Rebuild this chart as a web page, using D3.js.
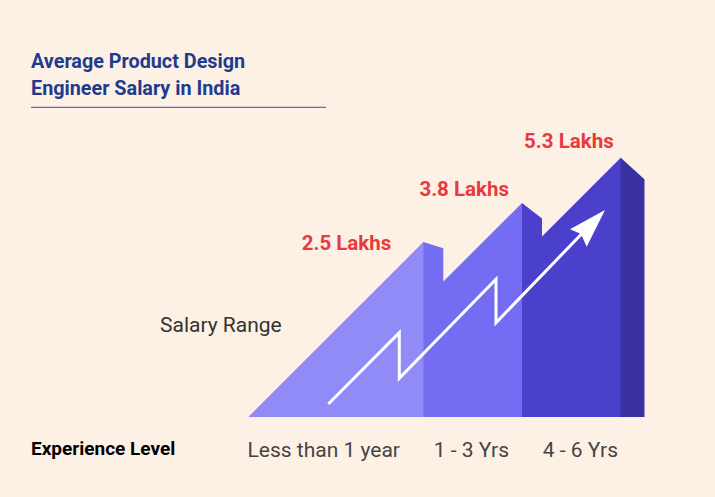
<!DOCTYPE html>
<html>
<head>
<meta charset="utf-8">
<script src="https://d3js.org/d3.v7.min.js"></script>
<style>
  html, body { margin: 0; padding: 0; background: #fdf1e6; }
  svg { display: block; font-family: Roboto, "Noto Sans", sans-serif; }
</style>
</head>
<body>
<div id="chart"></div>
<script>
// chart values
var categories = ["Less than 1 year", "1 - 3 Yrs", "4 - 6 Yrs"];
var salaries = [2.5, 3.8, 5.3];
var salaryLabels = ["2.5 Lakhs", "3.8 Lakhs", "5.3 Lakhs"];
var titleLines = ["Average Product Design", "Engineer Salary in India"];

var width = 715, height = 497;
var base = 417;                       // ground line of the steps
var bandColors = ["#918bf8", "#746df3", "#4a40cc", "#3a31a1"];
var sideWidth = [20, 20, 24];         // width of the shaded side face
var sideDrop = [6.3, 15.6, 21.7];     // how far the side face slopes down
var labelNudge = [[-32, 8], [-13, -7], [-7, -10]];

var svg = d3.select("#chart").append("svg")
  .attr("width", width).attr("height", height);

svg.append("rect").attr("width", width).attr("height", height).attr("fill", "#fdf1e6");

// scales
var x = d3.scalePoint().domain(categories).range([423.3, 620.7]);
var y = d3.scaleLinear().domain([0, 6]).range([317.3, 136.7]);
var xLabel = d3.scalePoint().domain(categories).range([400, 618]);

// build silhouette of the staircase
var pts = [];
var peaks = categories.map(function(c, i){ return [x(c), y(salaries[i])]; });
peaks.forEach(function(p, i){
  if (i == 0) {
    pts.push([p[0] - (base - p[1]), base]);
  } else {
    var sx = peaks[i-1][0] + sideWidth[i-1];
    pts.push([sx, p[1] + (p[0] - sx)]);
  }
  pts.push(p);
  pts.push([p[0] + sideWidth[i], p[1] + sideDrop[i]]);
  if (i == peaks.length - 1) pts.push([p[0] + sideWidth[i], base]);
});

var edges = [pts[0][0]].concat(peaks.map(function(p){ return p[0]; }))
  .concat([peaks[peaks.length-1][0] + sideWidth[sideWidth.length-1]]);

var defs = svg.append("defs");
edges.slice(0, -1).forEach(function(e, i){
  defs.append("clipPath").attr("id", "band" + i)
    .append("rect")
      .attr("x", e).attr("y", 0)
      .attr("width", edges[i+1] - e + (i < edges.length - 2 ? 0.5 : 0))
      .attr("height", height);
});

var shape = "M" + pts.map(function(p){ return p.join(","); }).join("L") + "Z";
bandColors.forEach(function(col, i){
  svg.append("path")
    .attr("d", shape)
    .attr("fill", col)
    .attr("clip-path", "url(#band" + i + ")");
});

// zigzag arrow (decorative)
var arrowPts = [[328.3, 404], [399.3, 332.7], [399.3, 378.3], [496, 279.3], [496, 322.7], [596, 219]];
svg.append("path")
  .attr("d", d3.line()(arrowPts))
  .attr("fill", "none")
  .attr("stroke", "#ffffff")
  .attr("stroke-width", 3)
  .attr("stroke-linejoin", "miter");
svg.append("path")
  .attr("d", d3.line()([[605, 210], [570, 229.3], [581, 234], [586.7, 246.7]]) + "Z")
  .attr("fill", "#ffffff");

// value labels
svg.selectAll(".val").data(salaryLabels).enter().append("text")
  .attr("class", "val")
  .attr("x", function(d, i){ return x(categories[i]) + labelNudge[i][0]; })
  .attr("y", function(d, i){ return y(salaries[i]) + labelNudge[i][1]; })
  .attr("text-anchor", "end")
  .attr("fill", "#e9393e")
  .attr("font-size", 20.5)
  .attr("font-weight", "bold")
  .text(function(d){ return d; });

// category labels
svg.selectAll(".cat").data(categories).enter().append("text")
  .attr("class", "cat")
  .attr("x", function(d){ return xLabel(d); })
  .attr("y", 457)
  .attr("text-anchor", "end")
  .attr("fill", "#444444")
  .attr("font-size", 21)
  .text(function(d){ return d; });

svg.append("text")
  .attr("x", 31).attr("y", 455)
  .attr("fill", "#000000")
  .attr("font-size", 19)
  .attr("font-weight", "bold")
  .text("Experience Level");

svg.append("text")
  .attr("x", 160).attr("y", 332)
  .attr("fill", "#333333")
  .attr("font-size", 21)
  .text("Salary Range");

// title
svg.selectAll(".title").data(titleLines).enter().append("text")
  .attr("class", "title")
  .attr("x", 31)
  .attr("y", function(d, i){ return 67.5 + i * 27.5; })
  .attr("fill", "#1f3b8e")
  .attr("font-size", 19.8)
  .attr("font-weight", "bold")
  .text(function(d){ return d; });

svg.append("line")
  .attr("x1", 31).attr("x2", 326)
  .attr("y1", 107.3).attr("y2", 107.3)
  .attr("stroke", "#2b4fb8")
  .attr("stroke-width", 1);
</script>
</body>
</html>
